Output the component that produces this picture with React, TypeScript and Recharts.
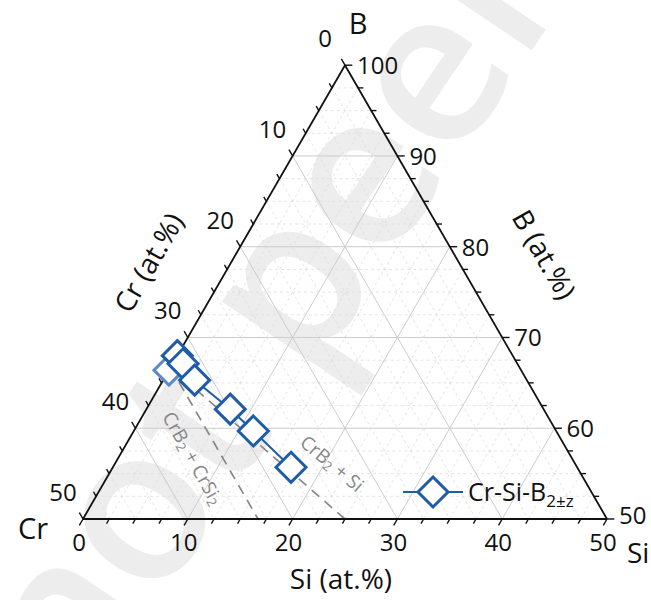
import React from "react";
import { ScatterChart, Scatter, XAxis, YAxis, ReferenceLine } from "recharts";

// Cr-Si-B2±z samples (at.%), Cr is the balance
const siContent = [0, 1.0, 3.0, 8.0, 11.4, 17.0];
const bContent = [68.0, 67.1, 65.3, 62.1, 59.7, 55.7];
// one more sample sitting under the first ones
const siExtra = [0];
const bExtra = [66.4];

const siTicks = [0, 10, 20, 30, 40, 50];
const bTicks = [50, 60, 70, 80, 90, 100];
const crTicks = [0, 10, 20, 30, 40, 50];

// two-phase field boundaries, both start at CrB2
const crB2 = { si: 0, b: 66.7 };
const crSi2Side = { si: 16.7, b: 50 };
const siSide = { si: 25, b: 50 };

const W = 651;
const H = 600;
const OX = 83; // Cr corner
const OY = 519;
const SIDE = 524; // 50 at.% along an edge
const U = SIDE / 50;
const R3 = Math.sqrt(3) / 2;
const BLUE = "#1f5ca8";
const FONT = "'Open Sans', 'Noto Sans', sans-serif";

// ternary (Si, B) -> cartesian in at.% units
const xy = (si: number, b: number) => ({ x: si + (b - 50) / 2, y: (b - 50) * R3 });

const xDomain = [-OX / U, (W - OX) / U];
const yDomain = [-(H - OY) / U, OY / U];

const seriesMain = siContent.map((si, i) => xy(si, bContent[i]));
const seriesExtra = siExtra.map((si, i) => xy(si, bExtra[i]));

const gridSteps: number[] = [];
for (let v = 2.5; v < 50; v += 2.5) gridSteps.push(v);
const tickSteps: number[] = [];
for (let v = 0; v <= 50; v += 2.5) tickSteps.push(v);

type Seg = { a: { x: number; y: number }; b: { x: number; y: number }; major: boolean };
const gridLines: Seg[] = [];
gridSteps.forEach((v) => {
  const major = v % 10 === 0;
  gridLines.push({ a: xy(0, 50 + v), b: xy(50 - v, 50 + v), major }); // B
  gridLines.push({ a: xy(v, 50), b: xy(v, 100 - v), major }); // Si
  gridLines.push({ a: xy(0, 100 - v), b: xy(50 - v, 50), major }); // Cr
});

const tickLines: Seg[] = [];
tickSteps.forEach((v) => {
  const major = v % 10 === 0;
  const len = major ? 0.7 : 0.5;
  tickLines.push({ a: xy(v, 50), b: xy(v, 50 - len), major });
  tickLines.push({ a: xy(0, 100 - v), b: xy(-len, 100 - v + len), major });
  tickLines.push({ a: xy(50 - v, 50 + v), b: xy(50 - v + len, 50 + v), major });
});

type Lbl = {
  x: number;
  y: number;
  parts: [string, boolean][];
  dx: number;
  dy: number;
  anchor: string;
  size: number;
  rot?: number;
  color?: string;
};

const lbl = (
  p: { x: number; y: number },
  text: string | [string, boolean][],
  dx: number,
  dy: number,
  anchor = "middle",
  size = 24,
  rot = 0,
  color = "#111"
): Lbl => ({
  ...p,
  parts: typeof text === "string" ? [[text, false]] : text,
  dx,
  dy,
  anchor,
  size,
  rot,
  color,
});

const labels: Lbl[] = [
  ...siTicks.map((v) => lbl(xy(v, 50), String(v), -4, 22)),
  ...crTicks.map((v) => lbl(xy(0, 100 - v), String(v), -20, -28)),
  ...bTicks.map((v) => lbl(xy(100 - v, v), String(v), 12, v === 50 ? -5 : -1, "start")),
  lbl(xy(0, 100), "B", 13, -43, "middle", 29),
  lbl(xy(0, 50), "Cr", -50, 8, "middle", 29),
  lbl(xy(50, 50), "Si", 20, 33, "start", 28),
  lbl(xy(25, 50), "Si (at.%)", -4, 59, "middle", 28),
  lbl(xy(0, 75), "Cr (at.%)", -66, -30, "middle", 28, -60),
  lbl(xy(25, 75), "B (at.%)", 69, -38, "middle", 28, 60),
  lbl(
    xy(10, 56.7),
    [["CrB", false], ["2", true], [" + CrSi", false], ["2", true]],
    -30,
    0,
    "middle",
    19,
    61,
    "#888"
  ),
  lbl(
    xy(20.5, 53.7),
    [["CrB", false], ["2", true], [" + Si", false]],
    15,
    -22,
    "middle",
    19,
    40,
    "#888"
  ),
];

const LabelMark = (p: any) => {
  const d: Lbl = p.payload;
  const x = p.cx + d.dx;
  const y = p.cy + d.dy;
  return (
    <text
      x={x}
      y={y}
      textAnchor={d.anchor as any}
      dominantBaseline="central"
      fontSize={d.size}
      fontFamily={FONT}
      fill={d.color}
      transform={d.rot ? `rotate(${d.rot} ${x} ${y})` : undefined}
    >
      {d.parts.map(([t, sub], i) => (
        <tspan
          key={i}
          fontSize={sub ? d.size * 0.7 : d.size}
          dy={sub ? d.size * 0.25 : i > 0 && d.parts[i - 1][1] ? -d.size * 0.25 : 0}
        >
          {t}
        </tspan>
      ))}
    </text>
  );
};

const diamond = (color: string) => (p: any) => {
  const r = 15;
  const { cx, cy } = p;
  return (
    <polygon
      points={`${cx},${cy - r} ${cx + r},${cy} ${cx},${cy + r} ${cx - r},${cy}`}
      fill="#fff"
      stroke={color}
      strokeWidth={3}
    />
  );
};

const LegendBox = () => (
  <svg width={240} height={40} style={{ position: "absolute", left: 400, top: 472 }}>
    <line x1={3} y1={20} x2={63} y2={20} stroke={BLUE} strokeWidth={2} />
    <polygon points="33,5 48,20 33,35 18,20" fill="#fff" stroke={BLUE} strokeWidth={3} />
    <text x={68} y={29} fontSize={25} fontFamily={FONT} fill="#111">
      Cr-Si-B
      <tspan fontSize={17} dy={6}>
        2±z
      </tspan>
    </text>
  </svg>
);

// faint diagonal stamp behind the plot
const Stamp = () => (
  <svg width={W} height={H} style={{ position: "absolute", left: 0, top: 0 }}>
    <text
      x={80}
      y={720}
      fontSize={215}
      fontWeight={600}
      fontFamily={FONT}
      fill="#ededed"
      transform="rotate(-56 80 720)"
    >
      not peer
    </text>
  </svg>
);

const App = () => {
  return (
    <div style={{ position: "absolute", left: 0, top: 0, width: W, height: H, background: "#fff", overflow: "hidden" }}>
      <Stamp />
      <div style={{ position: "absolute", left: 0, top: 0 }}>
        <ScatterChart width={W} height={H} margin={{ top: 0, right: 0, bottom: 0, left: 0 }}>
          <XAxis type="number" dataKey="x" domain={xDomain} allowDataOverflow hide />
          <YAxis type="number" dataKey="y" domain={yDomain} allowDataOverflow hide />
          {gridLines.map((g, i) => (
            <ReferenceLine
              key={"g" + i}
              segment={[g.a, g.b]}
              stroke={g.major ? "#cccccc" : "#dddddd"}
              strokeWidth={g.major ? 1 : 0.8}
              strokeDasharray={g.major ? undefined : "3 3"}
              ifOverflow="visible"
            />
          ))}
          <ReferenceLine segment={[crB2, crSi2Side].map((p) => xy(p.si, p.b))} stroke="#888" strokeWidth={1.7} strokeDasharray="10 7" ifOverflow="visible" />
          <ReferenceLine segment={[crB2, siSide].map((p) => xy(p.si, p.b))} stroke="#888" strokeWidth={1.7} strokeDasharray="10 7" ifOverflow="visible" />
          <ReferenceLine segment={[xy(0, 50), xy(50, 50)]} stroke="#111" strokeWidth={1.8} ifOverflow="visible" />
          <ReferenceLine segment={[xy(0, 50), xy(0, 100)]} stroke="#111" strokeWidth={1.8} ifOverflow="visible" />
          <ReferenceLine segment={[xy(50, 50), xy(0, 100)]} stroke="#111" strokeWidth={1.8} ifOverflow="visible" />
          {tickLines.map((t, i) => (
            <ReferenceLine key={"t" + i} segment={[t.a, t.b]} stroke="#111" strokeWidth={1.4} ifOverflow="visible" />
          ))}
          <Scatter data={labels} shape={LabelMark} isAnimationActive={false} />
          <Scatter data={seriesExtra} shape={diamond("#5b8ac4")} isAnimationActive={false} />
          <Scatter
            data={seriesMain}
            line={{ stroke: BLUE, strokeWidth: 2 }}
            shape={diamond(BLUE)}
            isAnimationActive={false}
          />
        </ScatterChart>
      </div>
      <LegendBox />
    </div>
  );
};

export default App;
